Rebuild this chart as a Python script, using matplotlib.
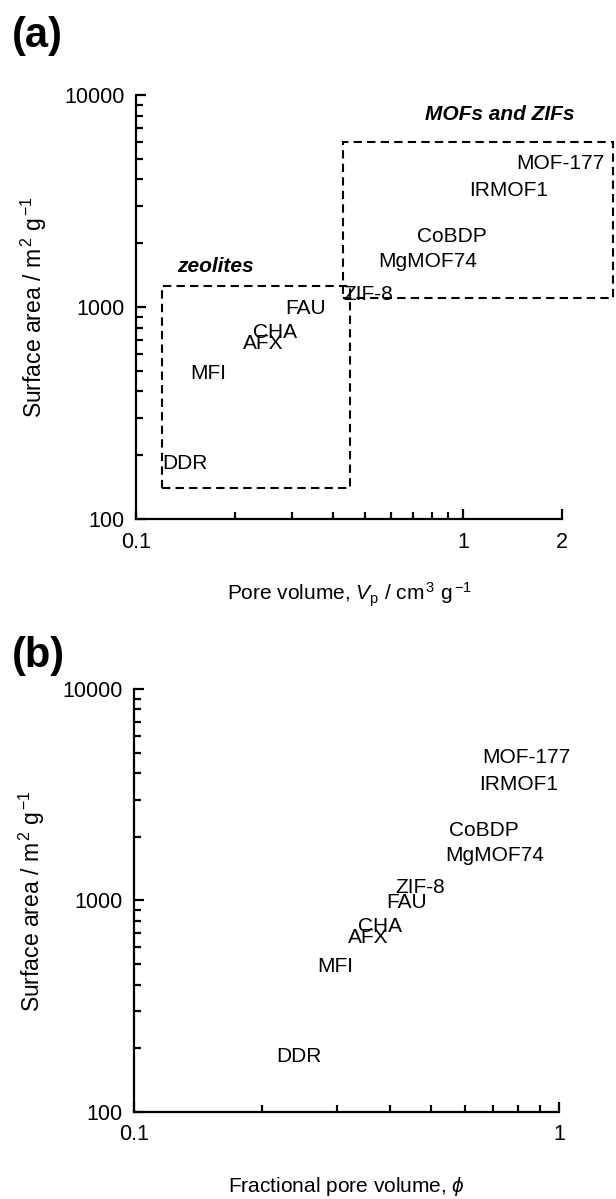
import numpy as np
import matplotlib
matplotlib.use("Agg")
import matplotlib.pyplot as plt
from matplotlib.patches import Rectangle
from matplotlib.ticker import FixedLocator, FixedFormatter, NullFormatter

plt.rcParams['font.family'] = ['Liberation Sans', 'DejaVu Sans']
plt.rcParams['mathtext.fontset'] = 'custom'
plt.rcParams['mathtext.rm'] = 'Liberation Sans'
plt.rcParams['mathtext.it'] = 'Liberation Sans:italic'
plt.rcParams['mathtext.bf'] = 'Liberation Sans:bold'

# DATA
materials = ['MOF-177', 'IRMOF1', 'CoBDP', 'MgMOF74', 'ZIF-8',
             'FAU', 'CHA', 'AFX', 'MFI', 'DDR']
surface_area = [4750, 3550, 2150, 1640, 1150, 980, 755, 670, 487, 182]
pore_volume = [1.45, 1.04, 0.72, 0.55, 0.43, 0.286, 0.228, 0.212, 0.146, 0.12]
frac_pore_volume = [0.66, 0.65, 0.55, 0.54, 0.413, 0.392, 0.337, 0.319, 0.27, 0.216]

# group boxes in panel (a): (x0, x1, y0, y1)
zeolite_box = (0.12, 0.45, 140, 1250)
mof_box = (0.43, 2.87, 1100, 6000)

FS = 15

fig = plt.figure(figsize=(6.16, 11.99), dpi=100)
ax1 = fig.add_axes([0.2208, 0.5671, 0.6916, 0.3537])
ax2 = fig.add_axes([0.2175, 0.0726, 0.6899, 0.3528])


def style_axes(ax, xmax, xmajor, xlabels):
    ax.set_xscale('log')
    ax.set_yscale('log')
    ax.set_xlim(0.1, xmax)
    ax.set_ylim(100, 10000)
    for s in ['top', 'right']:
        ax.spines[s].set_visible(False)
    for s in ['left', 'bottom']:
        ax.spines[s].set_linewidth(1.6)
    ax.xaxis.set_major_locator(FixedLocator(xmajor))
    ax.xaxis.set_major_formatter(FixedFormatter(xlabels))
    ax.xaxis.set_minor_locator(FixedLocator([0.2, 0.3, 0.4, 0.5, 0.6, 0.7, 0.8, 0.9]))
    ax.xaxis.set_minor_formatter(NullFormatter())
    ax.yaxis.set_major_locator(FixedLocator([100, 1000, 10000]))
    ax.yaxis.set_major_formatter(FixedFormatter(['100', '1000', '10000']))
    ax.yaxis.set_minor_locator(FixedLocator([m * d for d in (100, 1000) for m in range(2, 10)]))
    ax.yaxis.set_minor_formatter(NullFormatter())
    ax.tick_params(which='both', direction='in', width=1.6, labelsize=15.5)
    ax.tick_params(which='major', length=7)
    ax.tick_params(which='minor', length=5)
    ax.tick_params(axis='x', pad=9)
    ax.tick_params(axis='y', pad=8)
    ax.set_ylabel('Surface area / m$^{\\,2}$ g$^{\\,\\mathrm{-}1}$', fontsize=16.5)
    ax.yaxis.set_label_coords(-0.205, 0.5)


# (a)
style_axes(ax1, 2, [0.1, 1, 2], ['0.1', '1', '2'])
for name, x, y in zip(materials, pore_volume, surface_area):
    ax1.text(x, y, name, fontsize=FS, ha='left', va='center')
for x0, x1, y0, y1 in (zeolite_box, mof_box):
    ax1.add_patch(Rectangle((x0, y0), x1 - x0, y1 - y0, fill=False,
                            edgecolor='black', lw=1.5, linestyle=(0, (4, 2.5)),
                            clip_on=False))
ax1.text(0.1334, 1545, 'zeolites', fontsize=FS, weight='bold', style='italic',
         ha='left', va='center')
ax1.text(0.765, 8050, 'MOFs and ZIFs', fontsize=FS, weight='bold', style='italic',
         ha='left', va='center', clip_on=False)
ax1.set_xlabel('Pore volume, $V_\\mathrm{p}$ / cm$^{\\,3}$ g$^{\\,\\mathrm{-}1}$', fontsize=FS, va='top')
ax1.xaxis.set_label_coords(0.5, -0.144)

# (b)
style_axes(ax2, 1, [0.1, 1], ['0.1', '1'])
for name, x, y in zip(materials, frac_pore_volume, surface_area):
    ax2.text(x, y, name, fontsize=FS, ha='left', va='center')
ax2.set_xlabel('Fractional pore volume, $\\phi$', fontsize=FS, va='top')
ax2.xaxis.set_label_coords(0.5, -0.148)

fig.text(0.02, 1 - 36 / 1199, '(a)', fontsize=30, weight='bold', va='center')
fig.text(0.02, 1 - 656 / 1199, '(b)', fontsize=30, weight='bold', va='center')

plt.savefig('out.png', dpi=100)
